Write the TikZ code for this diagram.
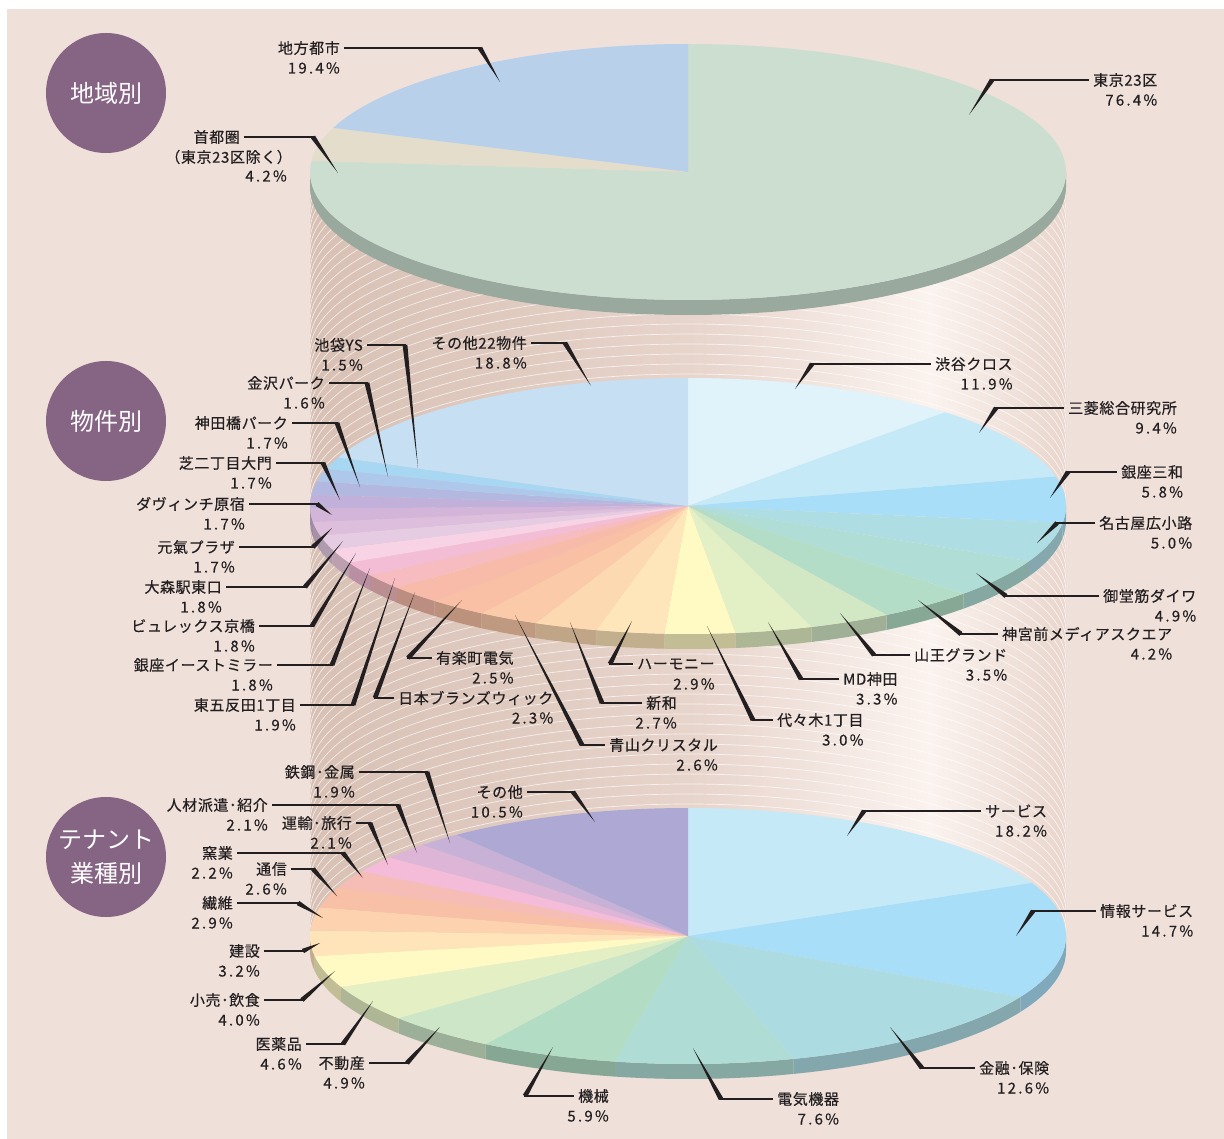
\documentclass[tikz,border=0pt]{standalone}
\usepackage{fontspec}
\setmainfont{Noto Sans CJK JP}
\newfontfamily\jpfont{Noto Sans CJK JP}[LetterSpace=4,FakeBold=0.35]
\newfontfamily\pcfont{Noto Sans CJK JP}[LetterSpace=15,FakeBold=0.35]
\usetikzlibrary{calc}
\definecolor{bg}{HTML}{EFE0DA}
\definecolor{txt}{HTML}{231F20}
\definecolor{lc}{HTML}{231F20}
\definecolor{circc}{HTML}{866584}
\definecolor{cyA}{HTML}{D8C0B4}
\definecolor{cyB}{HTML}{E7D4CB}
\definecolor{cyC}{HTML}{FBF3EF}
\definecolor{cyD}{HTML}{E9D6CD}
% top
\definecolor{tokyo}{HTML}{CBDED0}
\definecolor{shuto}{HTML}{E5DDCB}
\definecolor{chiho}{HTML}{B9D0EB}
% middle
\definecolor{m01}{HTML}{E0F3FB}
\definecolor{m02}{HTML}{C6E9F8}
\definecolor{m03}{HTML}{A9DEF8}
\definecolor{m04}{HTML}{AEDDE3}
\definecolor{m05}{HTML}{B0DDD6}
\definecolor{m06}{HTML}{B3DDC6}
\definecolor{m07}{HTML}{D2E8C5}
\definecolor{m08}{HTML}{E3EFC4}
\definecolor{m09}{HTML}{FFF9C4}
\definecolor{m10}{HTML}{FEE6BA}
\definecolor{m11}{HTML}{FDD9B1}
\definecolor{m12}{HTML}{FBCBA9}
\definecolor{m13}{HTML}{F9C0A5}
\definecolor{m14}{HTML}{F8BBAA}
\definecolor{m15}{HTML}{F6BCC0}
\definecolor{m16}{HTML}{F4BDD6}
\definecolor{m17}{HTML}{F8D3E6}
\definecolor{m18}{HTML}{E6CCE3}
\definecolor{m19}{HTML}{DDBEDC}
\definecolor{m20}{HTML}{D3B5D9}
\definecolor{m21}{HTML}{C1B0DA}
\definecolor{m22}{HTML}{B3B8E0}
\definecolor{m23}{HTML}{AEC8EB}
\definecolor{m24}{HTML}{A8D7F3}
\definecolor{m25}{HTML}{C7DFF3}
% bottom
\definecolor{b01}{HTML}{C6E9F8}
\definecolor{b02}{HTML}{A9DEF8}
\definecolor{b03}{HTML}{ACDBE2}
\definecolor{b04}{HTML}{AFDDD5}
\definecolor{b05}{HTML}{B2DCC4}
\definecolor{b06}{HTML}{CDE6C8}
\definecolor{b07}{HTML}{E5EFC4}
\definecolor{b08}{HTML}{FFF9C4}
\definecolor{b09}{HTML}{FEE4B8}
\definecolor{b10}{HTML}{FCD3AE}
\definecolor{b11}{HTML}{F8C0A6}
\definecolor{b12}{HTML}{F6BDB6}
\definecolor{b13}{HTML}{F5BCD9}
\definecolor{b14}{HTML}{DDB5D6}
\definecolor{b15}{HTML}{C7B1D6}
\definecolor{b16}{HTML}{ADA9D4}

\newcommand\drawpie[2]{%
  \xdef\pcum{0}%
  \foreach \pv/\pc in {#2}{%
    \pgfmathsetmacro\pA{90-3.6*\pcum}%
    \pgfmathsetmacro\pB{90-3.6*(\pcum+\pv)}%
    \pgfmathsetmacro\sA{min(\pA,0)}%
    \pgfmathsetmacro\sB{max(\pB,-180)}%
    \pgfmathtruncatemacro\pflag{\sA>\sB ? 1 : 0}%
    \ifnum\pflag=1
      \fill[\pc!76!black] ($(688,-#1)+(\sA:378 and 128)$) arc[start angle=\sA,end angle=\sB,x radius=378,y radius=128] -- ++(0,-15) arc[start angle=\sB,end angle=\sA,x radius=378,y radius=128] -- cycle;
    \fi
    \fill[\pc] (688,-#1) -- ($(688,-#1)+(\pA:378 and 128)$) arc[start angle=\pA,end angle=\pB,x radius=378,y radius=128] -- cycle;
    \pgfmathsetmacro\pnew{\pcum+\pv}\xdef\pcum{\pnew}%
  }}

\newcommand\ldr[3]{%
  \draw[ldrline] (#1) -- (#2);
  \fill[lc] ($(#2)!2.4pt!90:(#3)$) -- ($(#2)!2.4pt!-90:(#3)$) -- (#3) -- cycle;}

% left label: id, x right of text, y, name, pct, elbow x, elbow y, tip x, tip y
\newcommand\labL[9]{%
  \node[nm,anchor=east] (#1) at (#2+5,-#3) {#4};
  \node[pc,anchor=east] (#1p) at ($(#1.east)+(0,-20)$) {#5};
  \coordinate (#1e) at (#6,-#7);
  \coordinate (#1t) at (#8,-#9);
  \ldr{#1.east}{#1e}{#1t}}
% right label: id, x left of text, y, name, pct, elbow x, elbow y, tip x, tip y
\newcommand\labR[9]{%
  \node[nm,anchor=west] (#1) at (#2-5,-#3) {#4};
  \node[pc,anchor=east] (#1p) at ($(#1.east)+(0,-20)$) {#5};
  \coordinate (#1e) at (#6,-#7);
  \coordinate (#1t) at (#8,-#9);
  \ldr{#1.west}{#1e}{#1t}}

\begin{document}
\begin{tikzpicture}[x=1pt,y=1pt,
  nm/.style={font=\jpfont\fontsize{15}{18}\selectfont, text=txt, inner xsep=5pt, inner ysep=1pt},
  pc/.style={font=\pcfont\fontsize{15}{18}\selectfont, text=txt, inner xsep=5pt, inner ysep=1pt},
  ldrline/.style={draw=lc, line width=2.2pt, line cap=rect},
  circ/.style={circle, fill=circc, minimum size=120pt, inner sep=0pt, text=white, font=\fontsize{24}{34}\selectfont, align=center},
  ring/.style={draw=white, line width=0.7pt, opacity=0.7}]
\useasboundingbox (0,0) rectangle (1224,-1139);
\fill[white] (0,0) rectangle (1224,-1139);
\fill[bg] (7,-9) rectangle (1224,-1139);

% cylinder back wall
\shade[left color=cyA, right color=cyB] (310,-172) rectangle (688.5,-936);
\shade[left color=cyB, right color=cyC] (688,-172) rectangle (930.5,-936);
\shade[left color=cyC, right color=cyD] (930,-172) rectangle (1066,-936);
\begin{scope}
  \clip (310,-172) rectangle (1066,-936);
  \foreach \k in {0,...,76}
    \draw[ring] (310,-172-10*\k) arc[start angle=180,end angle=0,x radius=378,y radius=128];
\end{scope}

% pies
\drawpie{172}{76.4/tokyo,4.2/shuto,19.4/chiho}
\drawpie{506}{11.9/m01,9.4/m02,5.8/m03,5.0/m04,4.9/m05,4.2/m06,3.5/m07,3.3/m08,3.0/m09,2.9/m10,2.7/m11,2.6/m12,2.5/m13,2.3/m14,1.9/m15,1.8/m16,1.8/m17,1.8/m18,1.7/m19,1.7/m20,1.7/m21,1.7/m22,1.6/m23,1.5/m24,18.8/m25}
\drawpie{936}{18.2/b01,14.7/b02,12.6/b03,7.6/b04,5.9/b05,4.9/b06,4.6/b07,4.0/b08,3.2/b09,2.9/b10,2.6/b11,2.2/b12,2.1/b13,2.1/b14,1.9/b15,10.5/b16}

% top labels
\labL{a1}{340}{48}{地方都市}{19.4\%}{480}{48}{500}{82}
\node[nm,anchor=east] (a2) at (245,-137) {首都圏};
\node[nm,anchor=east] (a2b) at (297,-157) {（東京23区除く）};
\node[pc,anchor=east] (a2p) at (292,-176) {4.2\%};
\coordinate (a2e) at (313,-137);
\coordinate (a2t) at (338,-173);
\ldr{a2.east}{a2e}{a2t}
\labR{a3}{1093}{80}{東京23区}{76.4\%}{992}{80}{969}{115}

% middle labels
\labL{m1}{363}{345}{池袋YS}{1.5\%}{405}{345}{418}{468}
\labL{m2}{325}{383}{金沢パーク}{1.6\%}{367}{383}{388}{477}
\labL{m3}{288}{423}{神田橋パーク}{1.7\%}{337}{423}{360}{487}
\labL{m4}{272}{463}{芝二丁目大門}{1.7\%}{323}{463}{340}{500}
\labL{m5}{245}{504}{ダヴィンチ原宿}{1.7\%}{317}{504}{332}{515}
\labL{m6}{235}{547}{元氣プラザ}{1.7\%}{313}{547}{332}{528}
\labL{m7}{222}{587}{大森駅東口}{1.8\%}{305}{587}{343}{541}
\labL{m8}{255}{626}{ビュレックス京橋}{1.8\%}{312}{626}{356}{553}
\labL{m9}{273}{665}{銀座イーストミラー}{1.8\%}{332}{665}{370}{568}
\labL{m10}{296}{705}{東五反田1丁目}{1.9\%}{353}{705}{395}{578}
\labR{m11}{398}{698}{日本ブランズウィック}{2.3\%}{375}{698}{415}{592}
\labR{m12}{436}{658}{有楽町電気}{2.5\%}{408}{658}{462}{600}
\labR{m13}{609}{745}{青山クリスタル}{2.6\%}{582}{745}{515}{615}
\labR{m14}{646}{703}{新和}{2.7\%}{602}{703}{570}{622}
\labR{m15}{637}{664}{ハーモニー}{2.9\%}{610}{664}{632}{621}
\labR{m16}{777}{720}{代々木1丁目}{3.0\%}{753}{720}{707}{626}
\labR{m17}{843}{679}{MD神田}{3.3\%}{801}{679}{768}{622}
\labR{m18}{914}{655}{山王グランド}{3.5\%}{874}{655}{840}{613}
\labR{m19}{1002}{634}{神宮前メディアスクエア}{4.2\%}{961}{634}{918}{600}
\labR{m20}{1103}{596}{御堂筋ダイワ}{4.9\%}{1006}{596}{976}{573}
\labR{m21}{1099}{523}{名古屋広小路}{5.0\%}{1057}{523}{1037}{543}
\labR{m22}{1121}{472}{銀座三和}{5.8\%}{1068}{472}{1050}{498}
\labR{m23}{1068}{408}{三菱総合研究所}{9.4\%}{996}{408}{979}{433}
\labR{m24}{935}{364}{渋谷クロス}{11.9\%}{812}{364}{795}{389}
\labL{m25}{527}{343}{その他22物件}{18.8\%}{565}{343}{591}{386}

% bottom labels
\labL{b1}{355}{772}{鉄鋼･金属}{1.9\%}{427}{772}{450}{843}
\labL{b2}{268}{805}{人材派遣･紹介}{2.1\%}{398}{805}{417}{853}
\labL{b3}{352}{823}{運輸･旅行}{2.1\%}{370}{823}{388}{865}
\labL{b4}{233}{853}{窯業}{2.2\%}{343}{853}{363}{878}
\labL{b5}{287}{869}{通信}{2.6\%}{313}{869}{337}{896}
\labL{b6}{233}{903}{繊維}{2.9\%}{298}{903}{323}{918}
\labL{b7}{260}{951}{建設}{3.2\%}{303}{951}{320}{943}
\labL{b8}{260}{1000}{小売･飲食}{4.0\%}{302}{1000}{335}{971}
\labL{b9}{302}{1044}{医薬品}{4.6\%}{343}{1044}{373}{1001}
\labL{b10}{365}{1063}{不動産}{4.9\%}{407}{1063}{440}{1027}
\labR{b11}{578}{1096}{機械}{5.9\%}{525}{1096}{553}{1047}
\labR{b12}{777}{1099}{電気機器}{7.6\%}{721}{1099}{693}{1048}
\labR{b13}{979}{1068}{金融･保険}{12.6\%}{922}{1068}{890}{1027}
\labR{b14}{1100}{911}{情報サービス}{14.7\%}{1033}{911}{1016}{936}
\labR{b15}{985}{811}{サービス}{18.2\%}{864}{811}{847}{836}
\labL{b16}{523}{792}{その他}{10.5\%}{573}{792}{595}{822}

% category circles
\node[circ] (c1) at (106,-93) {地域別};
\node[circ] (c2) at (106,-421) {物件別};
\node[circ] (c3) at (106,-857) {テナント\\業種別};
\end{tikzpicture}
\end{document}
